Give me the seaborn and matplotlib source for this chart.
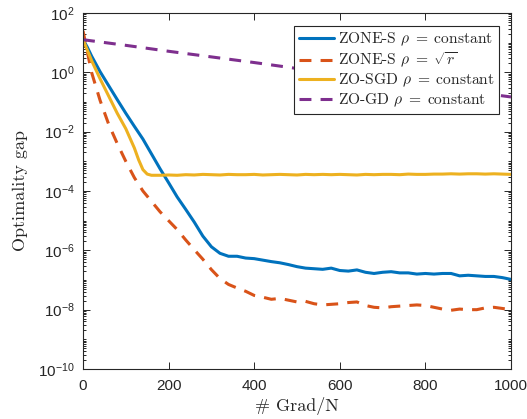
import numpy as np
import pandas as pd
import matplotlib
matplotlib.use("Agg")
import matplotlib.pyplot as plt
import matplotlib.ticker as mticker
import seaborn as sns

# ---------------------------------------------------------------------------
# Data (log10 of the optimality gap)
# ---------------------------------------------------------------------------
grad_n = [0, 10, 20, 40, 60, 80, 100, 120, 140, 160, 180, 200, 220, 240, 260,
          280, 300, 320, 340, 360, 380, 400, 420, 440, 460, 480, 500, 520, 540,
          560, 580, 600, 620, 640, 660, 680, 700, 720, 740, 760, 780, 800, 820,
          840, 860, 880, 900, 920, 940, 960, 980, 1000]

zone_s_const_log10 = [1.10, 0.85, 0.55, 0.02, -0.45, -0.92, -1.38, -1.82, -2.25,
                      -2.75, -3.25, -3.72, -4.20, -4.62, -5.05, -5.52, -5.88,
                      -6.10, -6.20, -6.20, -6.26, -6.28, -6.33, -6.38, -6.42,
                      -6.48, -6.55, -6.60, -6.62, -6.64, -6.60, -6.68, -6.70,
                      -6.66, -6.74, -6.78, -6.74, -6.72, -6.76, -6.76, -6.80,
                      -6.78, -6.80, -6.78, -6.78, -6.86, -6.84, -6.86, -6.88,
                      -6.88, -6.92, -6.98]

zone_s_sqrt_log10 = [1.40, 0.70, 0.00, -0.95, -1.75, -2.40, -3.00, -3.55, -4.00,
                     -4.35, -4.70, -5.00, -5.30, -5.65, -5.98, -6.30, -6.65,
                     -6.95, -7.15, -7.27, -7.38, -7.52, -7.58, -7.65, -7.62,
                     -7.68, -7.74, -7.72, -7.80, -7.84, -7.82, -7.80, -7.76,
                     -7.74, -7.86, -7.92, -7.94, -7.90, -7.88, -7.86, -7.84,
                     -7.86, -7.92, -7.98, -8.02, -7.98, -8.00, -8.00, -7.94,
                     -7.92, -7.96, -8.00]

zo_sgd_grad_n = [0, 10, 20, 40, 60, 80, 100, 120, 130, 140, 150, 160, 180, 200,
                 220, 240, 260, 280, 300, 320, 340, 360, 380, 400, 420, 440, 460,
                 480, 500, 520, 540, 560, 580, 600, 620, 640, 660, 680, 700, 720,
                 740, 760, 780, 800, 820, 840, 860, 880, 900, 920, 940, 960, 980,
                 1000]
zo_sgd_log10 = [1.10, 0.75, 0.40, -0.22, -0.80, -1.38, -1.90, -2.55, -2.95,
                -3.28, -3.43, -3.47, -3.47, -3.46, -3.47, -3.45, -3.46, -3.44,
                -3.45, -3.46, -3.44, -3.45, -3.45, -3.44, -3.46, -3.45, -3.44,
                -3.45, -3.46, -3.44, -3.45, -3.44, -3.45, -3.44, -3.45, -3.46,
                -3.44, -3.45, -3.44, -3.44, -3.45, -3.43, -3.44, -3.44, -3.43,
                -3.43, -3.42, -3.43, -3.42, -3.42, -3.43, -3.42, -3.43, -3.44]

zo_gd_grad_n = [0, 100, 200, 300, 400, 500, 600, 700, 800, 900, 1000]
zo_gd_log10 = [1.10, 0.91, 0.71, 0.52, 0.33, 0.13, -0.06, -0.25, -0.45, -0.64, -0.83]

LABELS = [
    r"ZONE-S $\rho\;=\;\mathrm{constant}$",
    r"ZONE-S $\rho\;=\;\sqrt{r}$",
    r"ZO-SGD $\rho\;=\;\mathrm{constant}$",
    r"ZO-GD $\rho\;=\;\mathrm{constant}$",
]
COLORS = ["#0072BD", "#D95319", "#EDB120", "#7E2F8E"]
DASHED = [False, True, False, True]

# ---------------------------------------------------------------------------
# Plot
# ---------------------------------------------------------------------------
sns.set_style("ticks")
plt.rcParams["font.family"] = ["Liberation Sans", "DejaVu Sans"]
plt.rcParams["mathtext.fontset"] = "cm"
plt.rcParams["axes.unicode_minus"] = True

INK = "#262626"
TEX_FONT = "cmr10"

fig = plt.figure(figsize=(5.27, 4.19), dpi=100)
ax = fig.add_axes([83 / 527, 50 / 419, 428 / 527, 356 / 419])

series = [
    (grad_n, zone_s_const_log10),
    (grad_n, zone_s_sqrt_log10),
    (zo_sgd_grad_n, zo_sgd_log10),
    (zo_gd_grad_n, zo_gd_log10),
]
for (xs, ys), label, color, dashed in zip(series, LABELS, COLORS, DASHED):
    df = pd.DataFrame({"x": xs, "gap": 10.0 ** np.asarray(ys)})
    line_kw = dict(dashes=(3.9, 3.0)) if dashed else {}
    sns.lineplot(data=df, x="x", y="gap", ax=ax, color=color, lw=2.2,
                 label=label, **line_kw)

ax.set_yscale("log")
ax.set_xlim(0, 1000)
ax.set_ylim(1e-10, 1e2)
ax.set_xticks([0, 200, 400, 600, 800, 1000])
ax.yaxis.set_major_locator(mticker.FixedLocator([10.0 ** k for k in range(-10, 3, 2)]))
ax.yaxis.set_major_formatter(mticker.LogFormatterSciNotation())
ax.yaxis.set_minor_locator(mticker.LogLocator(base=10, subs=np.arange(1, 10), numticks=100))
ax.yaxis.set_minor_formatter(mticker.NullFormatter())

for sp in ax.spines.values():
    sp.set_visible(True)
    sp.set_color(INK)
    sp.set_linewidth(0.8)
ax.tick_params(which="both", direction="in", top=True, right=True,
               color=INK, labelcolor=INK, width=0.7)
ax.tick_params(which="major", length=5, labelsize=11)
ax.tick_params(axis="x", which="major", pad=7)
ax.tick_params(axis="y", which="major", pad=6)
ax.tick_params(which="minor", length=2.5)
ax.tick_params(axis="x", which="minor", top=False, bottom=False)

ax.set_xlabel("# Grad/N", fontfamily=TEX_FONT, fontsize=13, color=INK, labelpad=3)
ax.set_ylabel("Optimality gap", fontfamily=TEX_FONT, fontsize=13, color=INK, labelpad=7)

leg = ax.legend(loc="upper right", bbox_to_anchor=(416 / 428, 343 / 356),
                bbox_transform=ax.transAxes, borderaxespad=0,
                prop={"family": TEX_FONT, "size": 11.2},
                handlelength=2.3, handletextpad=0.2, borderpad=0.3,
                labelspacing=0.15, fancybox=False, framealpha=1)
leg.get_frame().set_edgecolor(INK)
leg.get_frame().set_linewidth(0.8)
for t in leg.get_texts():
    t.set_color(INK)

fig.savefig("out.png", dpi=100)
